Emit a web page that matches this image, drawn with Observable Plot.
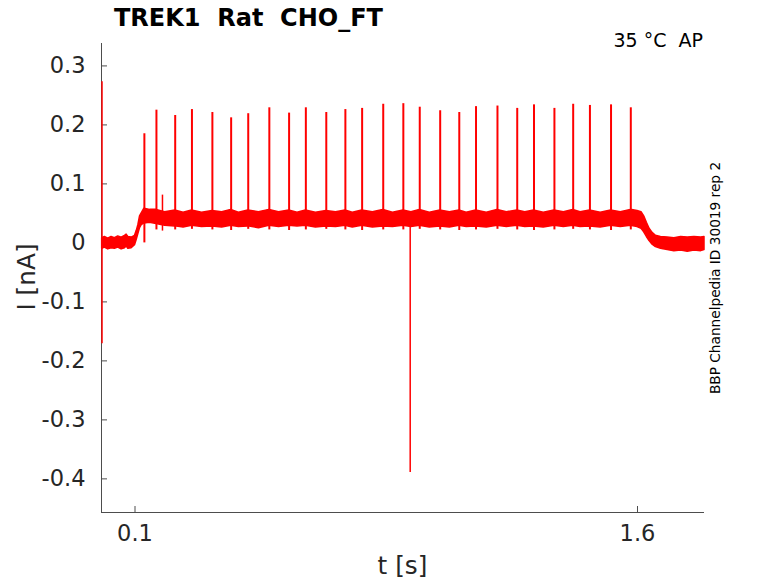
<!DOCTYPE html>
<html>
<head>
<meta charset="utf-8">
<script src="https://cdn.jsdelivr.net/npm/d3@7"></script>
<script src="https://cdn.jsdelivr.net/npm/@observablehq/plot@0.6"></script>
<style>
  html, body { margin: 0; padding: 0; background: #fff; }
  #wrap { position: relative; width: 778px; height: 583px; font-family: "DejaVu Sans", sans-serif; color: #262626; }
  .lbl { position: absolute; line-height: 1; white-space: pre; }
</style>
</head>
<body>
<div id="wrap">
  <div class="lbl" style="left:114px; top:5.5px; font-size:24px; font-weight:bold; color:#000;">TREK1  Rat  CHO_FT</div>
  <div class="lbl" style="right:75px; top:31px; font-size:19px; color:#000;">35 °C  AP</div>
  <div class="lbl" style="left:716px; top:278px; font-size:13.7px; color:#000; transform: translate(-50%,-50%) rotate(-90deg);">BBP Channelpedia ID 30019 rep 2</div>
  <div class="lbl" style="left:27px; top:277px; font-size:24.75px; transform: translate(-50%,-50%) rotate(-90deg);">I [nA]</div>
  <div class="lbl" style="left:402.5px; top:554px; font-size:24.75px; transform: translateX(-50%);">t [s]</div>
</div>
<script>
// axis settings
const xDomain = [0, 1.8];
const yDomain = [-0.457, 0.338];
const xTicks = [0.1, 1.6];
const yTicks = [-0.4, -0.3, -0.2, -0.1, 0, 0.1, 0.2, 0.3];

// action-potential current spikes (time s, peak nA, lower tail nA)
const spikeT    = [0.128, 0.164, 0.220, 0.270, 0.331, 0.387, 0.438, 0.501, 0.560, 0.610, 0.671, 0.728, 0.778, 0.841, 0.901, 0.950, 1.011, 1.068, 1.118, 1.182, 1.241, 1.291, 1.352, 1.408, 1.458, 1.521, 1.580];
const spikePeak = [0.185, 0.225, 0.216, 0.226, 0.221, 0.212, 0.219, 0.229, 0.220, 0.229, 0.221, 0.226, 0.228, 0.235, 0.236, 0.230, 0.224, 0.221, 0.231, 0.232, 0.228, 0.234, 0.228, 0.235, 0.233, 0.234, 0.229];
const spikeBase = [0.000, 0.022, 0.022, 0.023, 0.022, 0.021, 0.023, 0.022, 0.021, 0.022, 0.023, 0.022, 0.021, 0.022, 0.022, 0.023, 0.022, 0.021, 0.022, 0.023, 0.022, 0.021, 0.022, 0.023, 0.022, 0.021, 0.022];

// other transients (onset artifact, small spike, negative spike)
const eventT      = [0.0015, 0.182, 0.9215];
const eventTop    = [0.273, 0.081, 0.030];
const eventBottom = [-0.171, 0.020, -0.389];

// noisy baseline envelope (time s, low nA, high nA)
const bandT  = [0.002, 0.010, 0.020, 0.030, 0.040, 0.050, 0.060, 0.070, 0.075, 0.080, 0.090, 0.100, 0.105, 0.110, 0.115, 0.120,
  0.128, 0.145, 0.164, 0.190, 0.220, 0.245, 0.270, 0.300, 0.331, 0.360, 0.387, 0.410, 0.438, 0.470, 0.501, 0.530, 0.560, 0.585,
  0.610, 0.640, 0.671, 0.700, 0.728, 0.750, 0.778, 0.810, 0.841, 0.870, 0.901, 0.925, 0.950, 0.980, 1.011, 1.040, 1.068, 1.090,
  1.118, 1.150, 1.182, 1.210, 1.241, 1.265, 1.291, 1.320, 1.352, 1.380, 1.408, 1.430, 1.458, 1.490, 1.521, 1.550, 1.580, 1.600,
  1.612, 1.620, 1.628, 1.636, 1.645, 1.655, 1.670, 1.690, 1.710, 1.730, 1.750, 1.770, 1.790, 1.800];
const bandLo = [-0.010, -0.008, -0.011, -0.009, -0.010, -0.008, -0.011, -0.009, -0.006, -0.010, -0.009, -0.004, 0.005, 0.015, 0.025, 0.030,
  0.033, 0.034, 0.032, 0.029, 0.028, 0.026, 0.029, 0.027, 0.028, 0.026, 0.029, 0.027, 0.028, 0.025, 0.029, 0.027, 0.029, 0.028,
  0.029, 0.026, 0.028, 0.027, 0.029, 0.026, 0.029, 0.026, 0.028, 0.027, 0.029, 0.027, 0.029, 0.026, 0.028, 0.026, 0.029, 0.027,
  0.028, 0.026, 0.029, 0.027, 0.029, 0.027, 0.028, 0.026, 0.029, 0.027, 0.029, 0.027, 0.028, 0.026, 0.029, 0.027, 0.029, 0.027,
  0.024, 0.018, 0.010, 0.003, -0.003, -0.007, -0.010, -0.012, -0.014, -0.013, -0.015, -0.013, -0.014, -0.012];
const bandHi = [0.008, 0.010, 0.007, 0.010, 0.008, 0.011, 0.009, 0.012, 0.014, 0.010, 0.009, 0.012, 0.020, 0.030, 0.045, 0.050,
  0.058, 0.056, 0.056, 0.052, 0.055, 0.051, 0.055, 0.051, 0.054, 0.052, 0.056, 0.051, 0.055, 0.052, 0.056, 0.052, 0.055, 0.051,
  0.055, 0.051, 0.054, 0.052, 0.055, 0.051, 0.055, 0.052, 0.056, 0.051, 0.055, 0.052, 0.056, 0.051, 0.055, 0.052, 0.055, 0.051,
  0.055, 0.051, 0.056, 0.052, 0.055, 0.052, 0.055, 0.051, 0.055, 0.052, 0.056, 0.052, 0.055, 0.051, 0.055, 0.052, 0.056, 0.054,
  0.052, 0.045, 0.034, 0.024, 0.017, 0.012, 0.010, 0.009, 0.008, 0.010, 0.009, 0.010, 0.009, 0.010];

const band = bandT.map((t, i) => ({t, lo: bandLo[i], hi: bandHi[i]}));
const spikes = spikeT.map((t, i) => ({t, peak: spikePeak[i], base: spikeBase[i]}));
const events = eventT.map((t, i) => ({t, top: eventTop[i], bottom: eventBottom[i]}));

const axisStroke = "#4d4d4d";
const chart = Plot.plot({
  width: 778,
  height: 583,
  marginLeft: 101,
  marginRight: 74,
  marginTop: 43,
  marginBottom: 71,
  style: {fontFamily: "DejaVu Sans, sans-serif", color: "#262626", background: "transparent"},
  x: {domain: xDomain},
  y: {domain: yDomain},
  marks: [
    Plot.ruleX([xDomain[0]], {stroke: axisStroke}),
    Plot.ruleY([yDomain[0]], {stroke: axisStroke}),
    Plot.axisY({ticks: yTicks, tickSize: 6, dx: 6, tickFormat: () => "", label: null, stroke: axisStroke}),
    Plot.axisY({ticks: yTicks, tickSize: 0, tickPadding: 16, tickFormat: d => String(d), label: null, fontSize: 22.5}),
    Plot.axisX({ticks: xTicks, tickSize: 6, dy: -6, tickFormat: () => "", label: null, stroke: axisStroke}),
    Plot.axisX({ticks: xTicks, tickSize: 0, tickPadding: 13, tickFormat: d => String(d), label: null, fontSize: 22.5}),
    Plot.areaY(band, {x: "t", y1: "lo", y2: "hi", fill: "#ff0000", stroke: "#ff0000", strokeWidth: 1.5}),
    Plot.ruleX(spikes, {x: "t", y1: "base", y2: "peak", stroke: "#ff0000", strokeWidth: 2}),
    Plot.ruleX(events, {x: "t", y1: "bottom", y2: "top", stroke: "#ff0000", strokeWidth: 1.5})
  ]
});
chart.style.position = "absolute";
chart.style.left = "0";
chart.style.top = "0";
document.getElementById("wrap").prepend(chart);
</script>
</body>
</html>
